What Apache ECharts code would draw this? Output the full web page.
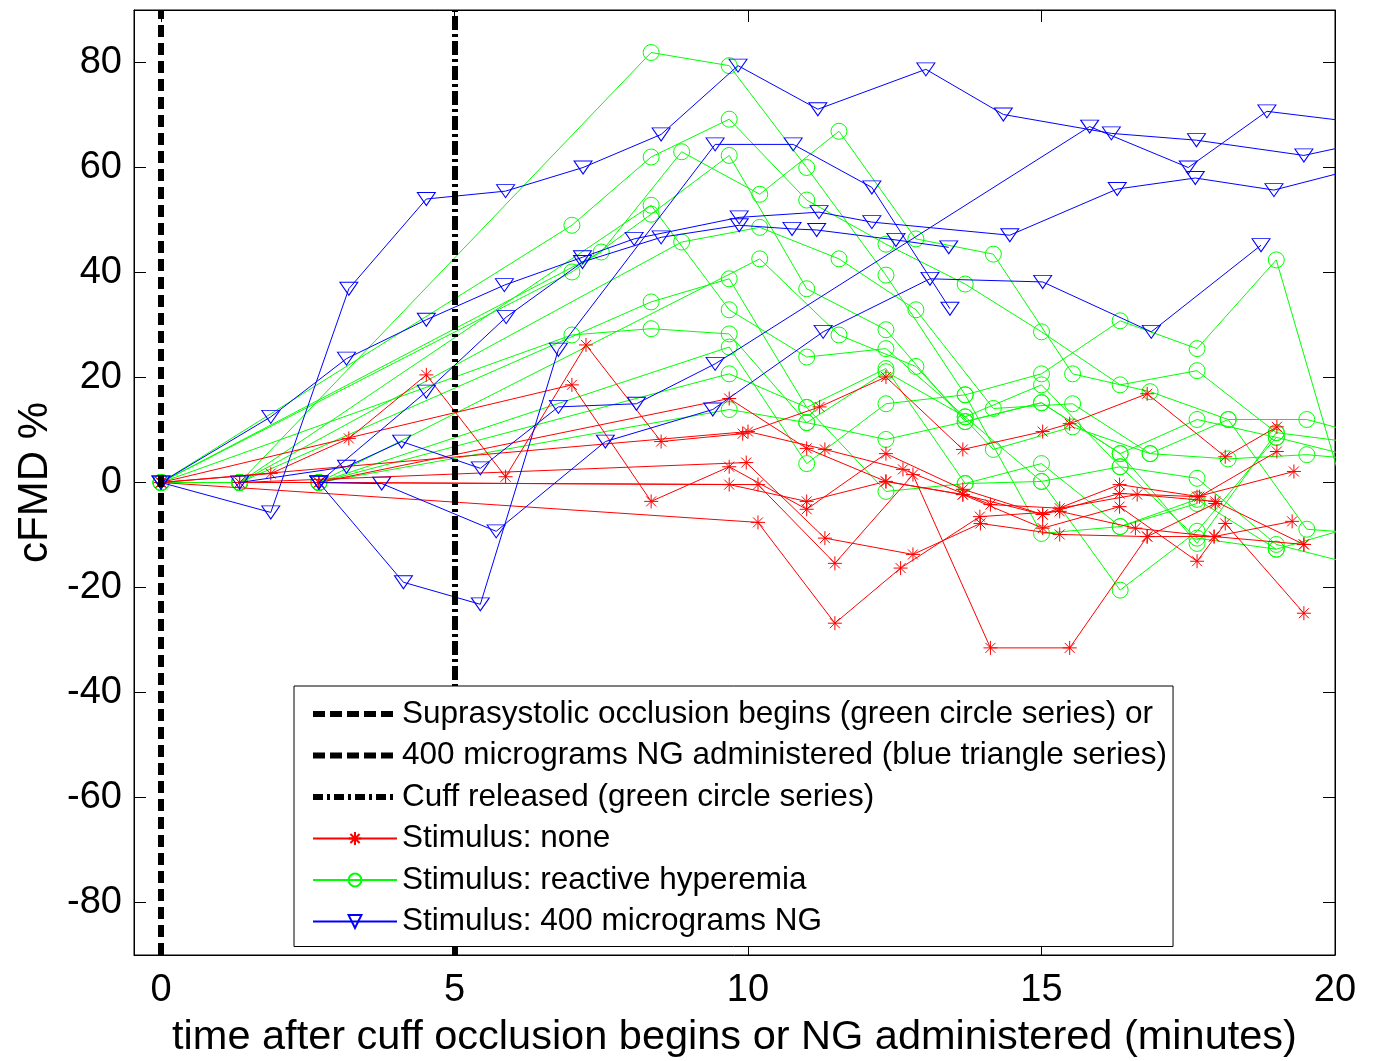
<!DOCTYPE html>
<html>
<head>
<meta charset="utf-8">
<script src="https://cdn.jsdelivr.net/npm/echarts@6/dist/echarts.min.js"></script>
<style>
html,body{margin:0;padding:0;background:#fff;}
#chart{width:1374px;height:1061px;}
</style>
</head>
<body>
<div id="chart"></div>
<script>
// ---------- tick labels ----------
const xTicks = [0, 5, 10, 15, 20];
const yTicks = [-80, -60, -40, -20, 0, 20, 40, 60, 80];

// ---------- legend labels ----------
const legendNames = [
  'Suprasystolic occlusion begins (green circle series) or',
  '400 micrograms NG administered (blue triangle series)',
  'Cuff released (green circle series)',
  'Stimulus: none',
  'Stimulus: reactive hyperemia',
  'Stimulus: 400 micrograms NG'
];
const occlusionTime = 0;
const releaseTime = 5;

// ---------- Stimulus: none (red, *) ----------
const red1 = [[0,0],[1.87,1.7],[3.2,8.4],[4.52,20.5],[5.87,1.1],[7.24,26.2],[8.52,7.8],[9.91,9.3],[11.22,14.4],[12.35,20.1],[13.66,6.3],[15.02,9.7],[15.48,11.2],[16.8,16.9],[18.13,4.9],[19.01,10.6]];
const red2 = [[0,0],[7.0,18.6],[8.35,-3.6],[9.68,3.0],[11.0,-5.1],[12.35,5.5],[13.66,-1.3],[15.02,-6.1],[16.33,-0.4],[17.69,-2.7],[19.01,5.9]];
const red3 = [[2.69,0],[9.68,16.0],[11.0,6.5],[12.35,0.2],[13.66,-2.3],[15.02,-8.7],[16.33,-4.6],[17.65,-15.0],[18.13,-7.8],[19.47,-24.9]];
const red4 = [[1.34,0],[2.69,0],[9.68,-0.4],[11.0,-3.6],[12.35,0.2],[13.66,-2.3],[15.02,-6.1],[16.33,-2.1],[17.65,-2.7],[19.3,2.1]];
const red5 = [[0,0],[10.0,9.7],[11.31,6.3],[12.64,2.5],[14.13,-4.2],[15.31,-4.9],[16.63,-2.3],[17.96,-3.6],[19.47,-11.8]];
const red6 = [[2.69,0],[10.17,-0.4],[11.48,-15.4],[12.81,1.5],[14.13,-31.5],[15.48,-31.5],[16.8,-10.3],[17.96,-4.0]];
const red7 = [[0,0],[10.17,-7.6],[11.48,-26.8],[12.6,-16.3],[13.95,-6.5],[15.31,-5.5],[16.6,-8.7],[17.94,-10.3],[19.27,-7.4]];
const red8 = [[1.34,0],[9.97,3.8],[11.31,-10.6],[12.81,-13.7],[13.96,-7.8],[15.31,-9.9],[16.8,-10.3],[17.94,-10.3],[19.47,-11.8]];

// ---------- Stimulus: reactive hyperemia (green, o) ----------
const green1 = [[1.34,0],[8.35,81.9],[9.68,79.4],[11.0,60.0],[12.35,39.5],[13.7,16.7],[15.0,20.7],[16.34,30.8],[17.65,25.5],[19.0,42.4],[20.33,-8.7]];
const green2 = [[0,0],[7.0,49.0],[8.35,62.0],[9.68,69.2],[11.0,53.8],[12.35,45.4],[13.7,37.8],[15.0,28.7],[16.34,18.6],[17.65,21.3],[19.0,9.5],[20.33,7.6]];
const green3 = [[0,0],[7.0,40.1],[8.35,51.1],[9.68,62.3],[11.0,36.9],[12.35,29.1],[13.7,11.6],[15.0,15.2],[16.34,5.5],[17.65,12.0],[19.0,8.6],[20.33,4.9]];
const green4 = [[1.34,0],[8.35,52.8],[9.68,32.9],[11.0,23.9],[12.35,25.5],[13.7,12.5],[15.0,18.6],[16.34,3.0],[17.65,0.8],[19.0,-11.8],[20.33,-15.6]];
const green5 = [[1.34,0],[8.35,34.4],[9.68,38.8],[11.0,14.3],[12.35,21.7],[13.7,-0.2],[15.0,3.6],[16.34,-8.4],[17.65,-3.2],[19.0,-12.7],[20.33,-8.4]];
const green6 = [[0,0],[7.0,28.1],[8.35,29.3],[9.68,28.3],[11.0,11.4],[12.35,21.1],[13.7,12.5],[15.0,0.2],[16.34,-20.5],[17.65,-9.3],[19.0,8.6]];
const green7 = [[0,0],[1.34,0],[2.69,0],[9.68,25.8],[11.0,3.6],[12.35,15.0],[13.7,16.7],[15.0,-9.7],[16.34,-8.4],[17.65,-4.0]];
const green8 = [[2.69,0],[9.68,20.7],[11.0,14.3],[12.35,-1.7],[13.7,-0.2],[15.0,0.2],[16.34,3.0],[17.65,-10.6],[19.0,-12.7]];
const green9 = [[2.69,0],[9.68,13.9],[11.0,11.4],[12.35,8.2],[13.7,11.6],[15.0,15.2],[16.34,5.5],[17.65,-11.6],[19.0,9.5]];
const green10 = [[0,0],[7.5,43.9],[8.87,63.0],[10.2,54.9],[11.55,66.9],[12.86,46.4],[14.18,43.5],[15.53,20.7],[16.85,17.3],[18.18,12.0],[19.52,12.0],[20.85,8.0]];
const green11 = [[1.34,0],[8.87,45.8],[10.2,48.6],[11.55,42.6],[12.86,32.9],[14.18,14.1],[15.53,15.0],[16.85,5.5],[18.18,4.5],[19.52,5.3],[20.85,4.0]];
const green12 = [[2.69,0],[10.2,42.6],[11.55,28.1],[12.86,22.1],[14.18,6.3],[15.53,10.6],[16.85,5.5],[18.18,12.0],[19.52,-8.9],[20.85,-10.0]];

// ---------- Stimulus: 400 micrograms NG (blue, v) ----------
const blue1 = [[0,0],[1.87,-5.7],[3.2,36.9],[4.52,54.0],[5.87,55.5],[7.19,60.0],[8.52,66.3],[9.83,79.4],[11.19,71.1],[13.03,78.7],[14.35,70.1],[16.19,66.5],[17.64,65.2],[19.47,62.3],[20.97,65.9]];
const blue2 = [[0,0],[1.87,12.5],[3.16,23.6],[4.52,31.0],[5.85,37.6],[7.18,42.9],[8.06,46.4],[9.85,50.5],[11.21,51.5],[12.11,49.6],[14.46,47.1],[16.29,55.9],[17.62,58.0],[18.96,55.7],[20.97,61.5]];
const blue3 = [[2.69,0],[3.76,-0.2],[5.71,-9.3],[7.57,7.8],[9.40,13.9],[11.28,28.7],[13.10,38.8],[15.02,38.2],[16.87,28.7],[18.74,45.2]];
const blue4 = [[2.69,0],[4.13,-19.0],[5.44,-23.2],[6.77,25.3],[9.44,64.4],[10.77,64.4],[12.11,56.2],[13.44,33.1]];
const blue5 = [[1.34,0],[3.16,3.0],[4.10,7.8],[5.44,2.7],[6.77,14.4],[8.10,15.0],[9.44,22.6],[15.82,67.8],[17.50,60.0],[18.84,70.7],[20.97,67.8]];
const blue6 = [[2.69,0],[4.52,17.3],[5.88,31.5],[7.18,42.0],[8.52,46.7],[9.85,49.0],[10.75,48.3],[11.17,48.1],[12.52,46.2],[13.42,44.8]];

const redSeries = [red1, red2, red3, red4, red5, red6, red7, red8];
const greenSeries = [green1, green2, green3, green4, green5, green6, green7, green8, green9, green10, green11, green12];
const blueSeries = [blue1, blue2, blue3, blue4, blue5, blue6];

// ---------- styling ----------
const FONT = 'Liberation Sans, Arial, Helvetica, sans-serif';
const RED = '#ff0000', GREEN = '#00ff00', BLUE = '#0000ff';
const STAR = 'path://M7,0L7,14M0,7L14,7M2,2L12,12M2,12L12,2';
const TRI = 'path://M0,0L20,0L10,14Z';
const XMIN = -0.46, XMAX = 20, YMIN = -90, YMAX = 90;

function dataSeries(name, data, color, symbol, size, z) {
  return {
    type: 'line', name: name, data: data, z: z,
    symbol: symbol, symbolSize: size, showSymbol: true,
    lineStyle: { color: color, width: 1 },
    itemStyle: { color: 'rgba(0,0,0,0)', borderColor: color, borderWidth: 1 },
    emphasis: { disabled: true }, animation: false, clip: true
  };
}

const series = [];
greenSeries.forEach(d => series.push(dataSeries(legendNames[4], d, GREEN, 'circle', 16, 2)));
redSeries.forEach(d => series.push(dataSeries(legendNames[3], d, RED, STAR, 14, 3)));
blueSeries.forEach(d => series.push(dataSeries(legendNames[5], d, BLUE, TRI, [18, 13], 4)));

const dashStyle = { color: '#000', width: 6, type: [12, 6] };
const dashDotStyle = { color: '#000', width: 6, type: [14, 4, 3, 4] };
const legendDash = { color: '#000', width: 6, type: [12, 5], opacity: 1 };
const legendDashDot = { color: '#000', width: 6, type: [10, 4, 3, 4], opacity: 1 };
const hiddenSymbol = { color: 'rgba(0,0,0,0)', borderColor: 'rgba(0,0,0,0)', borderWidth: 0 };

series.push({
  type: 'line', name: legendNames[0], data: [], symbol: 'none', z: 6,
  itemStyle: { color: '#000' }, lineStyle: legendDash,
  markLine: { silent: true, symbol: 'none', label: { show: false }, lineStyle: dashStyle,
    data: [{ xAxis: occlusionTime }], animation: false }
});
series.push({
  type: 'line', name: legendNames[1], data: [], symbol: 'none', z: 6,
  itemStyle: { color: '#000' }, lineStyle: legendDash
});
series.push({
  type: 'line', name: legendNames[2], data: [], symbol: 'none', z: 6,
  itemStyle: { color: '#000' }, lineStyle: legendDashDot,
  markLine: { silent: true, symbol: 'none', label: { show: false }, lineStyle: dashDotStyle,
    data: [{ xAxis: releaseTime }], animation: false }
});

const axisCommon = {
  axisLine: { show: true, onZero: false, lineStyle: { color: '#000', width: 1 } },
  splitLine: { show: false }
};

const option = {
  backgroundColor: '#fff',
  animation: false,
  grid: { left: 134, right: 39, top: 10, bottom: 106, show: true, borderColor: '#000', borderWidth: 1,
    backgroundColor: '#fff', containLabel: false, outerBoundsMode: 'none' },
  legend: {
    orient: 'vertical', left: 294, top: 686, z: 20,
    data: [
      { name: legendNames[0], itemStyle: hiddenSymbol, lineStyle: legendDash },
      { name: legendNames[1], itemStyle: hiddenSymbol, lineStyle: legendDash },
      { name: legendNames[2], itemStyle: hiddenSymbol, lineStyle: legendDashDot },
      { name: legendNames[3] },
      { name: legendNames[4] },
      { name: legendNames[5] }
    ],
    selectedMode: false,
    backgroundColor: '#fff', borderColor: '#000', borderWidth: 1,
    padding: [12, 6, 9, 16], itemGap: 9.5, itemWidth: 84, itemHeight: 16,
    textStyle: { fontFamily: FONT, fontSize: 31.5, color: '#000', lineHeight: 32 }
  },
  xAxis: [
    Object.assign({}, axisCommon, {
      type: 'value', min: XMIN, max: XMAX, position: 'bottom',
      axisTick: { show: true, inside: true, length: 12, customValues: xTicks, lineStyle: { color: '#000' } },
      axisLabel: { customValues: xTicks, fontFamily: FONT, fontSize: 38, color: '#000', margin: 17 },
      name: 'time after cuff occlusion begins or NG administered (minutes)',
      nameLocation: 'middle', nameGap: 62,
      nameTextStyle: { fontFamily: FONT, fontSize: 41.5, color: '#000' }
    }),
    Object.assign({}, axisCommon, {
      type: 'value', min: XMIN, max: XMAX, position: 'top',
      axisTick: { show: true, inside: true, length: 12, customValues: xTicks, lineStyle: { color: '#000' } },
      axisLabel: { show: false }
    })
  ],
  yAxis: [
    Object.assign({}, axisCommon, {
      type: 'value', min: YMIN, max: YMAX, position: 'left',
      axisTick: { show: true, inside: true, length: 12, customValues: yTicks, lineStyle: { color: '#000' } },
      axisLabel: { customValues: yTicks, fontFamily: FONT, fontSize: 38, color: '#000', margin: 12 },
      name: 'cFMD %', nameLocation: 'middle', nameGap: 78, nameRotate: 90,
      nameTextStyle: { fontFamily: FONT, fontSize: 42, color: '#000' }
    }),
    Object.assign({}, axisCommon, {
      type: 'value', min: YMIN, max: YMAX, position: 'right',
      axisTick: { show: true, inside: true, length: 12, customValues: yTicks, lineStyle: { color: '#000' } },
      axisLabel: { show: false }
    })
  ],
  series: series
};

const chart = echarts.init(document.getElementById('chart'), null, { renderer: 'canvas' });
chart.setOption(option);
</script>
</body>
</html>
